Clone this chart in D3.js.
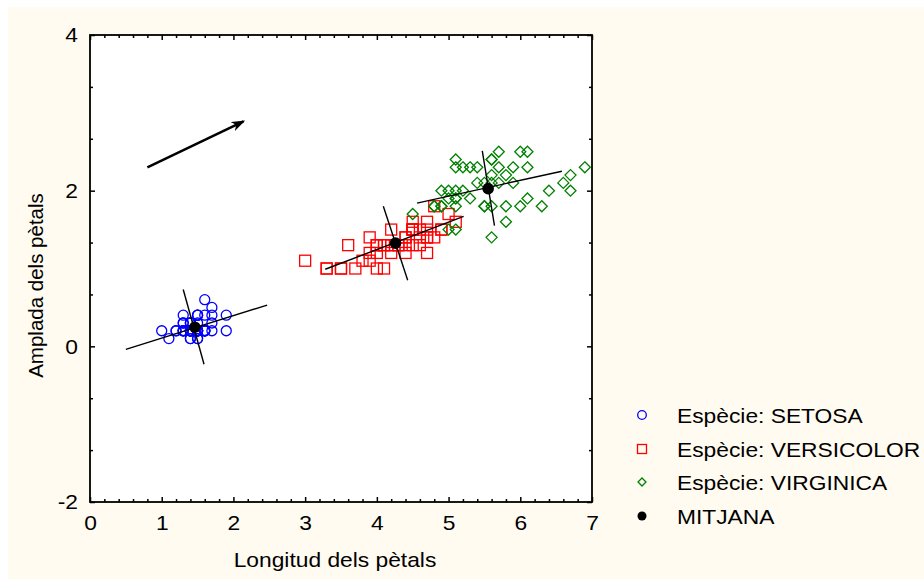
<!DOCTYPE html>
<html><head><meta charset="utf-8">
<script src="https://cdn.jsdelivr.net/npm/d3@7"></script>
<style>
html,body{margin:0;padding:0;background:#fff;}
text{font-family:"Liberation Sans",Arial,sans-serif;fill:#000;}
</style></head>
<body>
<svg id="chart" width="924" height="579"></svg>
<script>
// Petal length / width per species
const setosa = [[1.4,0.2],[1.4,0.2],[1.3,0.2],[1.5,0.2],[1.4,0.2],[1.7,0.4],[1.4,0.3],[1.5,0.2],[1.4,0.2],[1.5,0.1],
[1.5,0.2],[1.6,0.2],[1.4,0.1],[1.1,0.1],[1.2,0.2],[1.5,0.4],[1.3,0.4],[1.4,0.3],[1.7,0.3],[1.5,0.3],
[1.7,0.2],[1.5,0.4],[1.0,0.2],[1.7,0.5],[1.9,0.2],[1.6,0.2],[1.6,0.4],[1.5,0.2],[1.4,0.2],[1.6,0.2],
[1.6,0.2],[1.5,0.4],[1.5,0.1],[1.4,0.2],[1.5,0.2],[1.2,0.2],[1.3,0.2],[1.4,0.1],[1.3,0.2],[1.5,0.2],
[1.3,0.3],[1.3,0.3],[1.3,0.2],[1.6,0.6],[1.9,0.4],[1.4,0.3],[1.6,0.2],[1.4,0.2],[1.5,0.2],[1.4,0.2]];
const versicolor = [[4.7,1.4],[4.5,1.5],[4.9,1.5],[4.0,1.3],[4.6,1.5],[4.5,1.3],[4.7,1.6],[3.3,1.0],[4.6,1.3],[3.9,1.4],
[3.5,1.0],[4.2,1.5],[4.0,1.0],[4.7,1.4],[3.6,1.3],[4.4,1.4],[4.5,1.5],[4.1,1.0],[4.5,1.5],[3.9,1.1],
[4.8,1.8],[4.0,1.3],[4.9,1.5],[4.7,1.2],[4.3,1.3],[4.4,1.4],[4.8,1.4],[5.0,1.7],[4.5,1.5],[3.5,1.0],
[3.8,1.1],[3.7,1.0],[3.9,1.2],[5.1,1.6],[4.5,1.5],[4.5,1.6],[4.7,1.5],[4.4,1.3],[4.1,1.3],[4.0,1.3],
[4.4,1.2],[4.6,1.4],[4.0,1.2],[3.3,1.0],[4.2,1.3],[4.2,1.2],[4.2,1.3],[4.3,1.3],[3.0,1.1],[4.1,1.3]];
const virginica = [[6.0,2.5],[5.1,1.9],[5.9,2.1],[5.6,1.8],[5.8,2.2],[6.6,2.1],[4.5,1.7],[6.3,1.8],[5.8,1.8],[6.1,2.5],
[5.1,2.0],[5.3,1.9],[5.5,2.1],[5.0,2.0],[5.1,2.4],[5.3,2.3],[5.5,1.8],[6.7,2.2],[6.9,2.3],[5.0,1.5],
[5.7,2.3],[4.9,2.0],[6.7,2.0],[4.9,1.8],[5.7,2.1],[6.0,1.8],[4.8,1.8],[4.9,1.8],[5.6,2.1],[5.8,1.6],
[6.1,1.9],[6.4,2.0],[5.6,2.2],[5.1,1.5],[5.6,1.4],[6.1,2.3],[5.6,2.4],[5.5,1.8],[4.8,1.8],[5.4,2.1],
[5.6,2.4],[5.1,2.3],[5.1,1.9],[5.9,2.3],[5.7,2.5],[5.2,2.3],[5.0,1.9],[5.2,2.0],[5.4,2.3],[5.1,1.8]];
const means = [[1.462,0.246],[4.26,1.326],[5.552,2.026]];
// Axis segments through each mean (endpoints in data units)
const axisSegments = [
  [[0.50,-0.04],[2.47,0.53]], [[1.30,0.73],[1.59,-0.23]],
  [[3.28,0.99],[5.21,1.67]], [[4.09,1.80],[4.43,0.85]],
  [[4.56,1.84],[6.58,2.25]], [[5.47,2.51],[5.64,1.55]]
];
const arrow = [[0.80,2.30],[2.14,2.89]];
const xTicks = [0,1,2,3,4,5,6,7];
const yTicks = [-2,0,2,4];
const legendLabels = ["Espècie: SETOSA","Espècie: VERSICOLOR","Espècie: VIRGINICA","MITJANA"];

const svg = d3.select("#chart");
svg.append("rect").attr("x",8).attr("y",7).attr("width",916).attr("height",572).attr("fill","#fffbf0");

const L=90,R=592,T=35,B=502;
const x = d3.scaleLinear().domain([0,7]).range([L,R]);
const y = d3.scaleLinear().domain([-2,4]).range([B,T]);

svg.append("rect").attr("x",L).attr("y",T).attr("width",R-L).attr("height",B-T).attr("fill","#fff");

const xMinor = d3.range(0,7.001,0.2).filter(v=>Math.abs(v-Math.round(v))>1e-6);
const yMinor = d3.range(-2,4.001,2/3).filter(v=>Math.abs(v/2-Math.round(v/2))>1e-6);
const fmt = d => String(d);
const STRETCH = 1.085;
function stretch(sel){ sel.each(function(){ const w=this.getComputedTextLength(); if(w>0){ d3.select(this).attr("textLength",w*STRETCH).attr("lengthAdjust","spacingAndGlyphs"); } }); }

function styleAxis(g){ g.select(".domain").remove(); g.selectAll("line").attr("stroke","#000").attr("stroke-width",1.5); g.selectAll("text").attr("font-size",21).attr("font-family","'Liberation Sans',Arial,sans-serif"); }

svg.append("g").attr("transform",`translate(0,${B})`).call(d3.axisBottom(x).tickValues(xTicks).tickSize(-5).tickPadding(13).tickFormat(fmt)).call(styleAxis);
svg.append("g").attr("transform",`translate(0,${B})`).call(d3.axisBottom(x).tickValues(xMinor).tickSize(-3).tickFormat("")).call(styleAxis);
svg.append("g").attr("transform",`translate(0,${T})`).call(d3.axisTop(x).tickValues(xTicks).tickSize(-5).tickFormat("")).call(styleAxis);
svg.append("g").attr("transform",`translate(0,${T})`).call(d3.axisTop(x).tickValues(xMinor).tickSize(-3).tickFormat("")).call(styleAxis);
svg.append("g").attr("transform",`translate(${L},0)`).call(d3.axisLeft(y).tickValues(yTicks).tickSize(-5).tickPadding(12).tickFormat(fmt)).call(styleAxis);
svg.append("g").attr("transform",`translate(${L},0)`).call(d3.axisLeft(y).tickValues(yMinor).tickSize(-3).tickFormat("")).call(styleAxis);
svg.append("g").attr("transform",`translate(${R},0)`).call(d3.axisRight(y).tickValues(yTicks).tickSize(-5).tickFormat("")).call(styleAxis);
svg.append("g").attr("transform",`translate(${R},0)`).call(d3.axisRight(y).tickValues(yMinor).tickSize(-3).tickFormat("")).call(styleAxis);
svg.selectAll(".tick text").call(stretch);

// frame
svg.append("rect").attr("x",L).attr("y",T).attr("width",R-L).attr("height",B-T).attr("fill","none").attr("stroke","#000").attr("stroke-width",1.8);

const plot = svg.append("g");
plot.selectAll("circle.s").data(setosa).join("circle").attr("class","s")
  .attr("cx",d=>x(d[0])).attr("cy",d=>y(d[1])).attr("r",5)
  .attr("fill","none").attr("stroke","#0000ff").attr("stroke-width",1.3);
plot.selectAll("rect.v").data(versicolor).join("rect").attr("class","v")
  .attr("x",d=>x(d[0])-5.5).attr("y",d=>y(d[1])-5.5).attr("width",11).attr("height",11)
  .attr("fill","none").attr("stroke","#ff0000").attr("stroke-width",1.3);
plot.selectAll("path.g").data(virginica).join("path").attr("class","g")
  .attr("d",d=>{const cx=x(d[0]),cy=y(d[1]),r=5.5;return `M${cx},${cy-r}L${cx+r},${cy}L${cx},${cy+r}L${cx-r},${cy}Z`;})
  .attr("fill","none").attr("stroke","#008000").attr("stroke-width",1.3);

plot.selectAll("line.ax").data(axisSegments).join("line").attr("class","ax")
  .attr("x1",d=>x(d[0][0])).attr("y1",d=>y(d[0][1])).attr("x2",d=>x(d[1][0])).attr("y2",d=>y(d[1][1]))
  .attr("stroke","#000").attr("stroke-width",1.4);

plot.selectAll("circle.m").data(means).join("circle").attr("class","m")
  .attr("cx",d=>x(d[0])).attr("cy",d=>y(d[1])).attr("r",5.8).attr("fill","#000");

// arrow
const defs = svg.append("defs");
defs.append("marker").attr("id","ah").attr("viewBox","0 0 14 10").attr("refX",12).attr("refY",5)
  .attr("markerWidth",14).attr("markerHeight",10).attr("markerUnits","userSpaceOnUse").attr("orient","auto")
  .append("path").attr("d","M0,0L14,5L0,10L4,5Z").attr("fill","#000");
svg.append("line").attr("x1",x(arrow[0][0])).attr("y1",y(arrow[0][1])).attr("x2",x(arrow[1][0])).attr("y2",y(arrow[1][1]))
  .attr("stroke","#000").attr("stroke-width",2.5).attr("marker-end","url(#ah)");

// axis titles
svg.append("text").attr("x",335).attr("y",567).attr("text-anchor","middle").attr("font-size",21).text("Longitud dels pètals").call(stretch);
svg.append("text").attr("transform",`translate(43,${(T+B)/2+17}) rotate(-90)`).attr("text-anchor","middle").attr("font-size",20.5).text("Amplada dels pètals");

// legend
const lg = svg.append("g");
const ly = [415,449,482,516];
const lx = 642;
lg.append("circle").attr("cx",lx).attr("cy",ly[0]).attr("r",4.3).attr("fill","none").attr("stroke","#0000ff").attr("stroke-width",1.3);
lg.append("rect").attr("x",lx-4.5).attr("y",ly[1]-4.5).attr("width",9).attr("height",9).attr("fill","none").attr("stroke","#ff0000").attr("stroke-width",1.3);
lg.append("path").attr("d",`M${lx},${ly[2]-4}L${lx+4},${ly[2]}L${lx},${ly[2]+4}L${lx-4},${ly[2]}Z`).attr("fill","none").attr("stroke","#008000").attr("stroke-width",1.3);
lg.append("circle").attr("cx",lx).attr("cy",ly[3]).attr("r",4.5).attr("fill","#000");
lg.selectAll("text").data(legendLabels).join("text").attr("x",677).attr("y",(d,i)=>ly[i]).attr("dy","0.36em").attr("font-size",21).text(d=>d).call(stretch);
</script>
</body></html>
